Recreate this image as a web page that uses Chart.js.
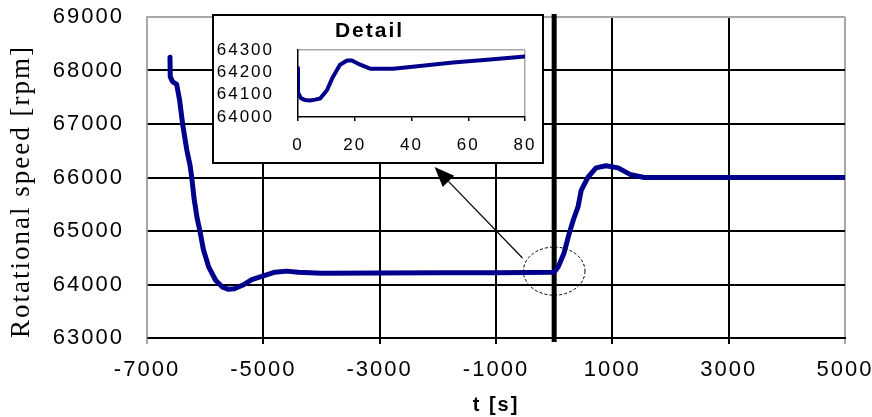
<!DOCTYPE html>
<html lang="en">
<head>
<meta charset="utf-8">
<title>Rotational speed</title>
<script src="https://cdn.jsdelivr.net/npm/chart.js@4.4.0/dist/chart.umd.min.js"></script>
<style>
    html, body { margin: 0; padding: 0; background: #fff; }
    canvas { display: block; }
    #wrap { position: relative; width: 872px; height: 417px; }
    #detailBox {
        position: absolute;
        left: 212px;
        top: 14px;
        width: 328px;
        height: 146px;
        border: 2px solid #000;
        background: #fff;
    }
</style>
</head>
<body>
<div id="wrap">
    <canvas id="speedChart" width="872" height="417"></canvas>
    <div id="detailBox">
        <canvas id="detailChart" width="328" height="146"></canvas>
    </div>
</div>
<script>
// Whole run: time [s] and rotational speed [rpm]
const timeSec = [
    -6605, -6600, -6560, -6490, -6440, -6385, -6315, -6260, -6225, -6190,
    -6140, -6090, -6030, -5940, -5820, -5700, -5600, -5500, -5350, -5200,
    -5000, -4800, -4600, -4400, -4000, -3000, -2000, -1000, 0,
    70, 170, 260, 330, 410, 465, 585, 720, 890, 1100, 1320, 1550, 3000, 5000
];
const speedRpm = [
    68250, 67880, 67790, 67740, 67450, 66980, 66510, 66230, 65950, 65600,
    65250, 65000, 64650, 64330, 64080, 63950, 63910, 63920, 63990, 64090,
    64160, 64230, 64250, 64230, 64210, 64215, 64220, 64220, 64230,
    64330, 64590, 64960, 65210, 65450, 65760, 66010, 66180, 66220, 66180, 66050, 66000, 66000, 66000
];

// First 80 s after the step
const detailTime = [0, 0, 1, 2.5, 4.2, 6, 7.8, 10.2, 12.3, 14.8, 17.3, 19, 21.9, 25.4, 33.5, 45.5, 54.6, 67.7, 80];
const detailSpeed = [
    64220, 64110, 64085, 64076, 64074, 64078, 64083, 64120, 64180, 64235,
    64254, 64254, 64235, 64217, 64217, 64232, 64245, 64258, 64272
];

// Tick values
const timeTicks = [-7000, -5000, -3000, -1000, 1000, 3000, 5000];
const speedTicks = [63000, 64000, 65000, 66000, 67000, 68000, 69000];
const detailTimeTicks = [0, 20, 40, 60, 80];
const detailSpeedTicks = [64000, 64100, 64200, 64300];

// Callout: circle around the step and arrow towards the detail box (data units)
const stepCircle = { t: 0, rpm: 64250, dt: 530, drpm: 450 };
const arrowFrom = { t: -545, rpm: 64495 };
const arrowTo = { t: -2056, rpm: 66196 };

const NAVY = '#00008c';
const GRAY = '#a8a8a8';
const SANS = "'Liberation Sans', Arial, sans-serif";
const SERIF = "'Liberation Serif', 'Times New Roman', serif";

Chart.defaults.font.family = SANS;
Chart.defaults.color = '#000';

const toPoints = (xs, ys) => xs.map((x, i) => ({ x: x, y: ys[i] }));
const setTicks = values => scale => {
    scale.ticks = values.map(v => ({ value: v }));
};

// wide text spacing for all labels
const letterSpacing = {
    id: 'letterSpacing',
    beforeDraw(chart, args, opts) {
        chart.ctx.letterSpacing = opts.value || '0px';
    }
};

// heavy marker at t = 0
const zeroLine = {
    id: 'zeroLine',
    beforeDatasetsDraw(chart) {
        const { ctx, chartArea, scales } = chart;
        const x = scales.x.getPixelForValue(0);
        ctx.save();
        ctx.strokeStyle = '#000';
        ctx.lineWidth = 5;
        ctx.beginPath();
        ctx.moveTo(x, chartArea.top - 3);
        ctx.lineTo(x, chartArea.bottom + 4);
        ctx.stroke();
        ctx.restore();
    }
};

const callout = {
    id: 'callout',
    afterDatasetsDraw(chart) {
        const { ctx, scales } = chart;
        const xs = scales.x, ys = scales.y;

        const cx = xs.getPixelForValue(stepCircle.t);
        const cy = ys.getPixelForValue(stepCircle.rpm);
        const rx = xs.getPixelForValue(stepCircle.t + stepCircle.dt) - cx;
        const ry = cy - ys.getPixelForValue(stepCircle.rpm + stepCircle.drpm);

        ctx.save();
        ctx.strokeStyle = '#000';
        ctx.lineWidth = 1;
        ctx.setLineDash([3, 2]);
        ctx.beginPath();
        ctx.ellipse(cx, cy, rx, ry, 0, 0, Math.PI * 2);
        ctx.stroke();
        ctx.setLineDash([]);

        const x0 = xs.getPixelForValue(arrowFrom.t), y0 = ys.getPixelForValue(arrowFrom.rpm);
        const x1 = xs.getPixelForValue(arrowTo.t), y1 = ys.getPixelForValue(arrowTo.rpm);
        const ang = Math.atan2(y1 - y0, x1 - x0);
        const headLen = 20, headHalf = 8;
        const bx = x1 - headLen * Math.cos(ang), by = y1 - headLen * Math.sin(ang);

        ctx.lineWidth = 1.2;
        ctx.beginPath();
        ctx.moveTo(x0, y0);
        ctx.lineTo(bx, by);
        ctx.stroke();

        ctx.fillStyle = '#000';
        ctx.beginPath();
        ctx.moveTo(x1, y1);
        ctx.lineTo(bx + headHalf * Math.sin(ang), by - headHalf * Math.cos(ang));
        ctx.lineTo(bx - headHalf * Math.sin(ang), by + headHalf * Math.cos(ang));
        ctx.closePath();
        ctx.fill();
        ctx.restore();
    }
};

new Chart(document.getElementById('speedChart'), {
    type: 'line',
    data: {
        datasets: [{
            data: toPoints(timeSec, speedRpm),
            borderColor: NAVY,
            borderWidth: 5,
            pointRadius: 0,
            tension: 0,
            borderJoinStyle: 'round',
            borderCapStyle: 'round'
        }]
    },
    options: {
        responsive: false,
        animation: false,
        devicePixelRatio: 1,
        layout: { padding: { top: 17, right: 27, left: 0, bottom: 0 } },
        plugins: {
            legend: { display: false },
            tooltip: { enabled: false },
            letterSpacing: { value: '2px' }
        },
        scales: {
            x: {
                type: 'linear',
                min: -7000,
                max: 5000,
                afterBuildTicks: setTicks(timeTicks),
                afterFit: scale => {
                    scale.height = 79;
                    scale.paddingLeft = 0;
                    scale.paddingRight = 0;
                },
                grid: {
                    color: ctx => ctx.tick && (ctx.tick.value === -7000 || ctx.tick.value === 5000) ? GRAY : '#000',
                    lineWidth: 2,
                    tickLength: 6
                },
                border: { color: '#000', width: 2 },
                ticks: {
                    padding: 13,
                    maxRotation: 0,
                    minRotation: 0,
                    autoSkip: false,
                    font: { size: 22 },
                    callback: v => String(v)
                },
                title: {
                    display: true,
                    text: 't [s]',
                    font: { size: 20, weight: 'bold' },
                    padding: { top: 0, bottom: 0 }
                }
            },
            y: {
                min: 63000,
                max: 69000,
                afterBuildTicks: setTicks(speedTicks),
                afterFit: scale => {
                    scale.width = 147;
                    scale.paddingTop = 0;
                    scale.paddingBottom = 0;
                },
                grid: {
                    color: ctx => ctx.tick && ctx.tick.value === 69000 ? GRAY : '#000',
                    lineWidth: 2,
                    drawTicks: false
                },
                border: { color: GRAY, width: 1.5 },
                ticks: {
                    padding: 23,
                    autoSkip: false,
                    font: { size: 22 },
                    callback: v => String(v)
                },
                title: {
                    display: true,
                    text: 'Rotational speed [rpm]',
                    align: 'start',
                    font: { family: SERIF, size: 27 },
                    padding: { top: 6, bottom: 0 }
                }
            }
        }
    },
    plugins: [letterSpacing, zeroLine, callout]
});

new Chart(document.getElementById('detailChart'), {
    type: 'line',
    data: {
        datasets: [{
            data: toPoints(detailTime, detailSpeed),
            borderColor: NAVY,
            borderWidth: 4,
            pointRadius: 0,
            tension: 0,
            borderJoinStyle: 'round',
            borderCapStyle: 'round'
        }]
    },
    options: {
        responsive: false,
        animation: false,
        devicePixelRatio: 1,
        layout: { padding: { top: 0, right: 17, left: 0, bottom: 0 } },
        plugins: {
            legend: { display: false },
            tooltip: { enabled: false },
            letterSpacing: { value: '2px' },
            title: {
                display: true,
                text: 'Detail',
                color: '#000',
                font: { size: 21, weight: 'bold' },
                padding: { top: 3, bottom: 6 }
            }
        },
        scales: {
            x: {
                type: 'linear',
                min: 0,
                max: 80,
                afterBuildTicks: setTicks(detailTimeTicks),
                afterFit: scale => {
                    scale.height = 45;
                    scale.paddingLeft = 0;
                    scale.paddingRight = 0;
                },
                grid: {
                    color: ctx => ctx.tick && ctx.tick.value === 80 ? GRAY : 'rgba(0,0,0,0)',
                    tickColor: '#000',
                    tickLength: 4,
                    lineWidth: 1.5
                },
                border: { color: '#000', width: 1.5 },
                ticks: {
                    padding: 14,
                    maxRotation: 0,
                    minRotation: 0,
                    autoSkip: false,
                    font: { size: 17 }
                }
            },
            y: {
                min: 64000,
                max: 64300,
                afterBuildTicks: setTicks(detailSpeedTicks),
                afterFit: scale => {
                    scale.width = 84;
                    scale.paddingTop = 0;
                    scale.paddingBottom = 0;
                },
                grid: {
                    color: ctx => ctx.tick && ctx.tick.value === 64300 ? GRAY : 'rgba(0,0,0,0)',
                    lineWidth: 1.5,
                    drawTicks: false
                },
                border: { color: '#000', width: 1.5 },
                ticks: {
                    padding: 24,
                    autoSkip: false,
                    font: { size: 17 },
                    callback: v => String(v)
                }
            }
        }
    },
    plugins: [letterSpacing]
});
</script>
</body>
</html>
